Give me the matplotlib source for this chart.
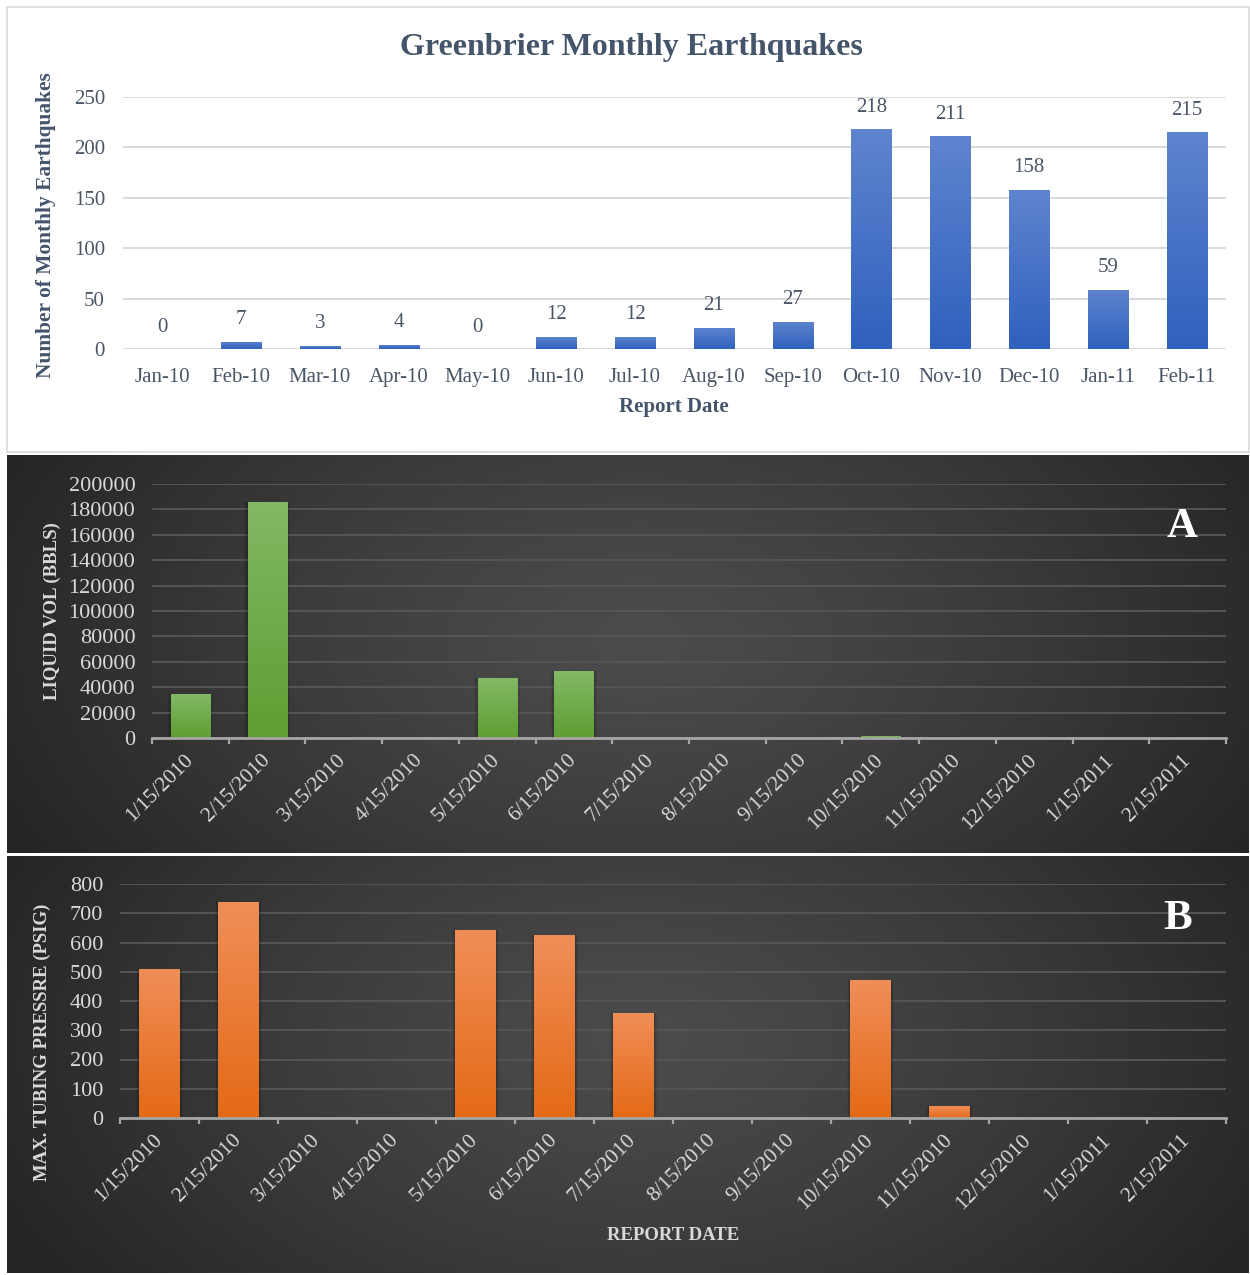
import numpy as np
import matplotlib
matplotlib.use("Agg")
import matplotlib.pyplot as plt
from matplotlib.patches import Rectangle
from matplotlib.colors import to_rgb

plt.rcParams['font.family'] = ['Liberation Serif', 'DejaVu Serif']

# ---- data ----
months = ["Jan-10", "Feb-10", "Mar-10", "Apr-10", "May-10", "Jun-10", "Jul-10",
          "Aug-10", "Sep-10", "Oct-10", "Nov-10", "Dec-10", "Jan-11", "Feb-11"]
quakes = [0, 7, 3, 4, 0, 12, 12, 21, 27, 218, 211, 158, 59, 215]

report_dates = ["1/15/2010", "2/15/2010", "3/15/2010", "4/15/2010", "5/15/2010",
                "6/15/2010", "7/15/2010", "8/15/2010", "9/15/2010", "10/15/2010",
                "11/15/2010", "12/15/2010", "1/15/2011", "2/15/2011"]
liquid_vol = [34600, 186000, 0, 0, 47200, 52700, 0, 0, 0, 1500, 0, 0, 0, 0]
tubing_psig = [510, 738, 0, 0, 643, 626, 359, 0, 0, 472, 41, 0, 0, 0]

W, H = 1250, 1275
fig = plt.figure(figsize=(W / 100, H / 100), dpi=100)
fig.patch.set_facecolor("white")


def box(x0, y0, x1, y1):
    return [x0 / W, 1 - y1 / H, (x1 - x0) / W, (y1 - y0) / H]


def dark_background(x0, y0, x1, y1, cx, cy):
    bg = fig.add_axes(box(x0, y0, x1, y1), zorder=-5)
    bg.set_axis_off()
    nx, ny = 400, 140
    xs = np.linspace(x0, x1, nx)
    ys = np.linspace(y0, y1, ny)
    X, Y = np.meshgrid(xs, ys)
    r = np.sqrt(((X - cx) / 700.0) ** 2 + ((Y - cy) / 420.0) ** 2)
    r = np.clip(r, 0, 1)
    v = 0.295 - (0.295 - 0.145) * r ** 1.3
    img = np.dstack([v, v, v])
    bg.imshow(img, extent=[0, 1, 0, 1], aspect="auto", origin="upper",
              interpolation="bilinear")
    bg.set_xlim(0, 1)
    bg.set_ylim(0, 1)


def gradient_bars(ax, values, width, c_top, c_bot, shadow=False):
    x = np.arange(len(values))
    bars = ax.bar(x, values, width, color=c_bot, zorder=3, linewidth=0)
    top = np.array(to_rgb(c_top))
    bot = np.array(to_rgb(c_bot))
    t = np.linspace(0, 1, 100)[:, None]
    grad = (bot * (1 - t) + top * t)[:, None, :]
    for b, v in zip(bars, values):
        if v <= 0:
            continue
        bx = b.get_x()
        if shadow:
            # soft drop shadow built from a few widening translucent layers
            for k, a in ((0.045, 0.06), (0.03, 0.08), (0.015, 0.10)):
                ax.add_patch(Rectangle((bx - k, 0), width + 2 * k, v,
                                       color="black", alpha=a, zorder=2,
                                       linewidth=0))
        im = ax.imshow(grad, extent=[bx, bx + width, 0, v], aspect="auto",
                       origin="lower", zorder=3.5, interpolation="bilinear")
        im.set_clip_path(b)
    return bars


# ---------------- top panel: monthly earthquakes ----------------
fig.add_artist(Rectangle((7 / W, 1 - 452 / H), (1249 - 7) / W, (452 - 7) / H,
                         transform=fig.transFigure, facecolor="white",
                         edgecolor="#d9d9d9", linewidth=1.2, zorder=-6))

slate = "#44546A"
ax1 = fig.add_axes(box(123, 97, 1226, 349))
gradient_bars(ax1, quakes, 0.51, "#5F84CF", "#2F61BD")
ax1.set_xlim(-0.5, len(months) - 0.5)
ax1.set_ylim(0, 250)
ax1.set_yticks(np.arange(0, 251, 50))
ax1.yaxis.grid(True, color="#d9d9d9", linewidth=1.4)
ax1.set_axisbelow(True)
for s in ax1.spines.values():
    s.set_visible(False)
ax1.set_xticks(np.arange(len(months)))
ax1.set_xticklabels(months)
ax1.tick_params(axis="both", length=0, labelsize=15, colors="#4a5566")
ax1.tick_params(axis="x", pad=13.5)
ax1.tick_params(axis="y", pad=13)
for i, v in enumerate(quakes):
    ax1.annotate(str(v), (i, v), xytext=(0, 9), textcoords="offset points",
                 ha="center", va="bottom", fontsize=15, color="#4a5566")
fig.text(631 / W, 1 - 48 / H, "Greenbrier Monthly Earthquakes", ha="center",
         va="center", fontsize=23, fontweight="bold", color=slate)
fig.text(46 / W, 1 - 225 / H, "Number of Monthly Earthquakes", rotation=90,
         ha="center", va="center", fontsize=15.4, fontweight="bold",
         color=slate)
fig.text(674 / W, 1 - 407 / H, "Report Date", ha="center", va="center",
         fontsize=15, fontweight="bold", color=slate)


# ---------------- dark panels ----------------
def dark_axes(rect, values, ymax, ystep, c_top, c_bot):
    ax = fig.add_axes(rect)
    ax.patch.set_alpha(0)
    gradient_bars(ax, values, 0.51, c_top, c_bot, shadow=True)
    ax.set_xlim(-0.5, len(report_dates) - 0.5)
    ax.set_ylim(0, ymax)
    ax.set_yticks(np.arange(0, ymax + 1, ystep))
    ax.yaxis.grid(True, color="#555555", linewidth=1.4)
    ax.set_axisbelow(True)
    for k in ("left", "right", "top"):
        ax.spines[k].set_visible(False)
    ax.spines["bottom"].set_color("#a6a6a6")
    ax.spines["bottom"].set_linewidth(2)
    ax.spines["bottom"].set_zorder(4)
    ax.set_xticks(np.arange(len(report_dates)))
    ax.set_xticklabels(report_dates, rotation=45, ha="right",
                       rotation_mode="anchor", va="center")
    ax.set_xticks(np.arange(-0.5, len(report_dates)), minor=True)
    ax.tick_params(axis="x", which="major", length=0, pad=14,
                   labelsize=15.5)
    ax.tick_params(axis="x", which="minor", length=4, width=1.6,
                   color="#a6a6a6")
    ax.tick_params(axis="y", length=0, pad=12, labelsize=16)
    ax.tick_params(axis="both", labelcolor="#d9d9d9")
    return ax


# panel A: liquid volume
dark_background(7, 455, 1249, 853, 640, 640)
axA = dark_axes(box(152, 484, 1226, 738), liquid_vol, 200000, 20000,
                "#82B965", "#5E9E32")
fig.text(52 / W, 1 - 611 / H, "LIQUID VOL (BBLS)", rotation=90, ha="center",
         va="center", fontsize=13.6, fontweight="bold", color="#d9d9d9")
fig.text(1182 / W, 1 - 527 / H, "A", ha="center", va="center", fontsize=31,
         fontweight="bold", color="white")

# panel B: max tubing pressure
dark_background(7, 856, 1249, 1273, 640, 1040)
axB = dark_axes(box(120, 884, 1226, 1118), tubing_psig, 800, 100,
                "#F08E58", "#E46A16")
fig.text(42 / W, 1 - 1042 / H, "MAX. TUBING PRESSRE (PSIG)", rotation=90,
         ha="center", va="center", fontsize=13.5, fontweight="bold",
         color="#d9d9d9")
fig.text(673 / W, 1 - 1236 / H, "REPORT DATE", ha="center", va="center",
         fontsize=13.5, fontweight="bold", color="#d9d9d9")
fig.text(1178 / W, 1 - 919 / H, "B", ha="center", va="center", fontsize=31,
         fontweight="bold", color="white")

fig.savefig("out.png", dpi=100, facecolor="white")
